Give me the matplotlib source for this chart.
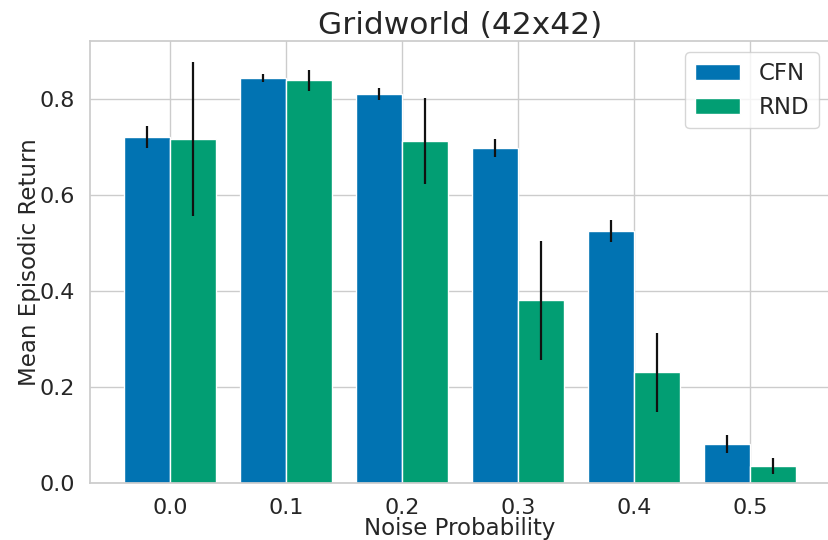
import matplotlib
matplotlib.use("Agg")
import matplotlib.pyplot as plt
import numpy as np
import seaborn as sns

noise = [0.0, 0.1, 0.2, 0.3, 0.4, 0.5]
cfn_mean = [0.720, 0.843, 0.810, 0.697, 0.524, 0.081]
cfn_err = [0.023, 0.008, 0.012, 0.018, 0.023, 0.019]
rnd_mean = [0.716, 0.838, 0.712, 0.380, 0.230, 0.035]
rnd_err = [0.160, 0.022, 0.090, 0.123, 0.083, 0.017]

sns.set_theme(style="whitegrid", palette="colorblind")
plt.rcParams["font.family"] = ["DejaVu Sans"]

colors = sns.color_palette("colorblind")
x = np.asarray(noise)
w = 0.04

fig = plt.figure(figsize=(8.29, 5.4), dpi=100)
ax = fig.add_axes([90 / 829, 57 / 540, 740 / 829, 442 / 540])

err_kw = dict(ecolor="#111111", elinewidth=1.6, capsize=0)
ax.bar(x - w / 2, cfn_mean, width=w, yerr=cfn_err, color=colors[0],
       edgecolor="white", linewidth=1.0, label="CFN", error_kw=err_kw)
ax.bar(x + w / 2, rnd_mean, width=w, yerr=rnd_err, color=colors[2],
       edgecolor="white", linewidth=1.0, label="RND", error_kw=err_kw)

ax.set_xticks(noise)
ax.set_xticklabels([f"{v:.1f}" for v in noise])
ax.set_yticks([0.0, 0.2, 0.4, 0.6, 0.8])
ax.tick_params(axis="both", labelsize=16, pad=5)
ax.set_xlabel("Noise Probability", fontsize=16.5, labelpad=-1)
ax.set_ylabel("Mean Episodic Return", fontsize=16.5, labelpad=-1)
ax.set_title("Gridworld (42x42)", fontsize=22.5, pad=5)
ax.set_axisbelow(True)
ax.legend(loc="upper right", fontsize=16.5, handlelength=2.0)

fig.savefig("out.png", dpi=100)
